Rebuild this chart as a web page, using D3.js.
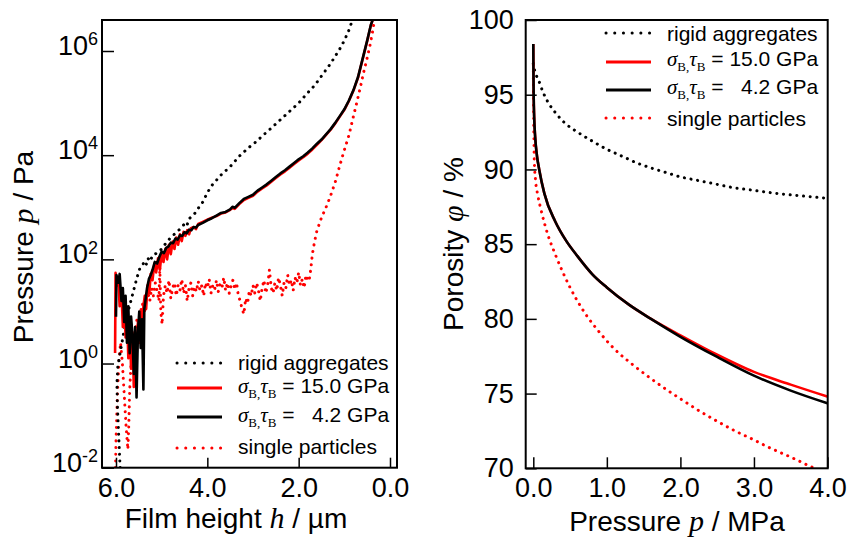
<!DOCTYPE html>
<html>
<head>
<meta charset="utf-8">
<script src="https://cdn.jsdelivr.net/npm/d3@7"></script>
<style>
  body { margin: 0; background: #fff; }
  svg { display: block; font-family: 'Liberation Sans', Arial, sans-serif; }
  .serif { font-family: 'Liberation Serif', 'Times New Roman', serif; }
</style>
</head>
<body>
<svg class="chart" width="847" height="541"></svg>
<script>
const app = (function () {
  'use strict';

  // left panel: film height h (µm) vs log10(p / Pa)
  const rigidLeft = [
    [5.91, -2.0], [5.93, -1.6], [5.95, -1.2], [5.97, -0.8], [5.98, -0.4], [5.96, -0.05],
    [5.90, 0.25], [5.84, 0.55], [5.78, 0.85], [5.72, 1.05], [5.66, 1.25], [5.60, 1.45],
    [5.54, 1.65], [5.48, 1.82], [5.40, 1.92], [5.35, 1.86], [5.30, 2.02], [5.25, 1.96],
    [5.20, 2.08], [5.10, 2.12], [5.00, 2.20], [4.90, 2.32], [4.80, 2.42], [4.70, 2.50],
    [4.60, 2.58], [4.50, 2.68], [4.45, 2.64], [4.40, 2.78], [4.30, 2.85], [4.20, 2.98],
    [4.10, 3.10], [4.00, 3.28], [3.90, 3.42], [3.80, 3.52], [3.70, 3.62], [3.60, 3.70],
    [3.50, 3.78], [3.40, 3.88], [3.30, 3.98], [3.20, 4.06], [3.10, 4.14], [3.00, 4.21],
    [2.90, 4.28], [2.80, 4.37], [2.70, 4.44], [2.60, 4.52], [2.50, 4.60], [2.40, 4.68],
    [2.30, 4.76], [2.20, 4.84], [2.10, 4.92], [2.00, 5.00], [1.90, 5.10], [1.80, 5.20],
    [1.70, 5.29], [1.60, 5.40], [1.50, 5.52], [1.40, 5.64], [1.30, 5.76], [1.20, 5.90],
    [1.10, 6.04], [1.00, 6.20], [0.90, 6.40], [0.82, 6.60]
  ];

  const stiff15Left = [
    [6.02, 0.20], [6.01, 1.74], [5.98, 1.50], [5.95, 1.65], [5.92, 1.10], [5.88, 1.40],
    [5.85, 0.70], [5.82, 1.25], [5.79, 0.50], [5.76, 1.00], [5.73, 0.10], [5.70, 0.85],
    [5.67, -0.10], [5.64, 0.60], [5.61, -0.45], [5.58, 0.50], [5.55, 0.10], [5.52, 0.80],
    [5.49, 0.40], [5.46, 1.00], [5.43, 0.50], [5.40, 1.10], [5.37, 1.30], [5.34, 1.05],
    [5.31, 1.50], [5.27, 1.35], [5.24, 1.72], [5.20, 1.60], [5.16, 1.92], [5.12, 1.75],
    [5.08, 2.02], [5.04, 1.80], [5.00, 2.12], [4.96, 1.95], [4.92, 2.20], [4.88, 2.00],
    [4.84, 2.28], [4.80, 2.10], [4.76, 2.34], [4.72, 2.20], [4.68, 2.42], [4.64, 2.28],
    [4.60, 2.48], [4.56, 2.35], [4.52, 2.53], [4.48, 2.45], [4.44, 2.56], [4.40, 2.48],
    [4.36, 2.60], [4.30, 2.62], [4.25, 2.58], [4.20, 2.68], [4.10, 2.72], [4.00, 2.76],
    [3.90, 2.80], [3.80, 2.83], [3.70, 2.88], [3.60, 2.90], [3.50, 2.95], [3.45, 2.99],
    [3.40, 2.97], [3.30, 3.06], [3.20, 3.14], [3.10, 3.18], [3.00, 3.22], [2.90, 3.30],
    [2.80, 3.36], [2.70, 3.42], [2.60, 3.49], [2.50, 3.56], [2.40, 3.63], [2.30, 3.69],
    [2.20, 3.76], [2.10, 3.83], [2.00, 3.90], [1.90, 3.96], [1.80, 4.03], [1.70, 4.11],
    [1.60, 4.20], [1.50, 4.29], [1.40, 4.39], [1.30, 4.49], [1.20, 4.61], [1.10, 4.74],
    [1.00, 4.87], [0.90, 5.04], [0.80, 5.24], [0.70, 5.49], [0.60, 5.84], [0.50, 6.19],
    [0.42, 6.49], [0.37, 6.62]
  ];

  const stiff42Left = [
    [6.00, 0.90], [5.99, 1.70], [5.95, 1.55], [5.92, 1.72], [5.88, 1.20], [5.85, 1.45],
    [5.82, 0.80], [5.79, 1.30], [5.76, 0.40], [5.73, 1.10], [5.70, 0.20], [5.67, 0.90],
    [5.64, 0.55], [5.61, -0.20], [5.58, 0.70], [5.55, -0.65], [5.52, 0.60], [5.49, 1.00],
    [5.46, 0.30], [5.43, 0.85], [5.40, -0.50], [5.38, 1.05], [5.35, 1.25], [5.32, 1.45],
    [5.28, 1.62], [5.24, 1.70], [5.20, 1.80], [5.15, 1.95], [5.10, 1.92], [5.05, 2.05],
    [5.00, 2.15], [4.95, 2.12], [4.90, 2.22], [4.85, 2.25], [4.80, 2.32], [4.75, 2.31],
    [4.70, 2.40], [4.65, 2.38], [4.60, 2.46], [4.55, 2.45], [4.50, 2.52], [4.45, 2.50],
    [4.40, 2.57], [4.35, 2.56], [4.30, 2.62], [4.25, 2.61], [4.20, 2.66], [4.10, 2.70],
    [4.00, 2.75], [3.90, 2.79], [3.80, 2.84], [3.70, 2.89], [3.60, 2.91], [3.50, 2.96],
    [3.45, 3.01], [3.40, 2.99], [3.30, 3.08], [3.20, 3.16], [3.10, 3.20], [3.00, 3.24],
    [2.90, 3.32], [2.80, 3.38], [2.70, 3.44], [2.60, 3.51], [2.50, 3.58], [2.40, 3.65],
    [2.30, 3.71], [2.20, 3.78], [2.10, 3.85], [2.00, 3.92], [1.90, 3.98], [1.80, 4.05],
    [1.70, 4.13], [1.60, 4.22], [1.50, 4.30], [1.40, 4.40], [1.30, 4.50], [1.20, 4.62],
    [1.10, 4.75], [1.00, 4.88], [0.90, 5.05], [0.80, 5.25], [0.70, 5.50], [0.60, 5.85],
    [0.50, 6.20], [0.42, 6.50], [0.37, 6.62]
  ];

  const singleLeft = [
    [6.01, -2.0], [6.00, -1.5], [5.98, -0.9], [5.96, -0.4], [5.93, 0.1], [5.90, 0.4],
    [5.86, 0.0], [5.82, -0.6], [5.78, -1.2], [5.74, -1.65], [5.72, -1.2], [5.70, -0.5],
    [5.67, 0.0], [5.63, 0.3], [5.58, 0.6], [5.54, 0.85], [5.50, 0.7], [5.46, 1.0],
    [5.42, 1.15], [5.38, 0.95], [5.34, 1.25], [5.30, 1.35], [5.26, 1.2], [5.22, 1.45],
    [5.18, 1.3], [5.14, 1.55], [5.10, 1.40], [5.06, 1.20], [5.04, 1.85], [5.02, 1.00],
    [4.99, 0.75], [4.96, 1.30], [4.92, 1.50], [4.88, 1.35], [4.84, 1.60], [4.80, 1.25],
    [4.76, 1.45], [4.72, 1.55], [4.68, 1.30], [4.64, 1.50], [4.60, 1.40], [4.56, 1.62],
    [4.52, 1.35], [4.48, 1.50], [4.44, 1.20], [4.40, 1.45], [4.36, 1.55], [4.32, 1.30],
    [4.28, 1.48], [4.24, 1.38], [4.20, 1.58], [4.16, 1.40], [4.12, 1.50], [4.08, 1.30],
    [4.04, 1.55], [4.00, 1.45], [3.96, 1.62], [3.92, 1.35], [3.88, 1.50], [3.84, 1.42],
    [3.80, 1.60], [3.76, 1.38], [3.72, 1.52], [3.68, 1.45], [3.64, 1.65], [3.60, 1.40],
    [3.56, 1.55], [3.52, 1.35], [3.48, 1.50], [3.44, 1.60], [3.40, 1.42], [3.36, 1.55],
    [3.32, 1.30], [3.28, 1.20], [3.24, 1.05], [3.20, 0.95], [3.16, 1.25], [3.12, 1.15],
    [3.08, 1.40], [3.04, 1.30], [3.00, 1.50], [2.96, 1.35], [2.92, 1.55], [2.88, 1.40],
    [2.84, 1.20], [2.80, 1.45], [2.76, 1.60], [2.72, 1.35], [2.68, 1.50], [2.64, 1.80],
    [2.60, 1.45], [2.56, 1.35], [2.52, 1.55], [2.48, 1.40], [2.44, 1.65], [2.40, 1.50],
    [2.36, 1.30], [2.32, 1.55], [2.28, 1.45], [2.24, 1.70], [2.20, 1.50], [2.16, 1.60],
    [2.12, 1.40], [2.08, 1.65], [2.04, 1.55], [2.00, 1.75], [1.96, 1.50], [1.92, 1.62],
    [1.88, 1.45], [1.84, 1.70], [1.80, 1.58], [1.76, 1.65], [1.73, 1.85], [1.70, 2.10],
    [1.65, 2.35], [1.60, 2.55], [1.50, 2.80], [1.40, 3.00], [1.31, 3.20], [1.20, 3.48],
    [1.10, 3.80], [1.02, 4.04], [0.90, 4.38], [0.80, 4.75], [0.73, 5.00], [0.65, 5.30],
    [0.58, 5.58], [0.51, 5.83], [0.44, 6.10], [0.38, 6.38], [0.34, 6.60]
  ];

  // right panel: pressure p (MPa) vs porosity (%)
  const rigidRight = [
    [0.0, 97.1], [0.02, 96.6], [0.07, 96.0], [0.13, 95.2], [0.2, 94.5], [0.3, 93.8],
    [0.43, 93.1], [0.6, 92.5], [0.8, 91.9], [1.0, 91.35], [1.2, 90.9], [1.4, 90.45],
    [1.6, 90.1], [1.8, 89.8], [2.0, 89.5], [2.2, 89.3], [2.45, 89.05], [2.7, 88.8],
    [3.0, 88.6], [3.3, 88.4], [3.6, 88.25], [4.0, 88.07]
  ];
  const stiff15Right = [
    [0.0, 98.4], [0.002, 96.5], [0.005, 95.0], [0.012, 93.5], [0.025, 92.2], [0.05, 90.9],
    [0.08, 90.0], [0.15, 88.4], [0.3, 86.5], [0.45, 85.2], [0.6, 84.2], [0.8, 83.0],
    [1.0, 82.1], [1.3, 80.95], [1.6, 80.0], [2.0, 78.9], [2.5, 77.6], [3.0, 76.45],
    [3.5, 75.6], [4.0, 74.8]
  ];
  const stiff42Right = [
    [0.0, 98.4], [0.002, 96.5], [0.005, 95.0], [0.012, 93.5], [0.025, 92.2], [0.05, 90.9],
    [0.08, 90.0], [0.15, 88.4], [0.3, 86.5], [0.45, 85.2], [0.6, 84.2], [0.8, 83.0],
    [1.0, 82.1], [1.3, 80.95], [1.6, 80.0], [2.0, 78.8], [2.5, 77.45], [3.0, 76.2],
    [3.5, 75.2], [4.0, 74.35]
  ];
  const singleRight = [
    [0.0, 97.0], [0.003, 94.5], [0.007, 92.5], [0.014, 90.5], [0.03, 89.3], [0.06, 88.3],
    [0.1, 87.4], [0.2, 85.6], [0.3, 84.3], [0.5, 82.1], [0.7, 80.4], [0.9, 79.1],
    [1.1, 78.0], [1.36, 76.9], [1.6, 76.0], [1.8, 75.3], [2.0, 74.65], [2.27, 73.8],
    [2.5, 73.15], [2.72, 72.56], [3.0, 71.9], [3.18, 71.45], [3.5, 70.75], [3.8, 70.05],
    [4.0, 69.6]
  ];

  const leftXTicks = [6, 4, 2, 0];
  const leftYTicks = [-2, 0, 2, 4, 6];
  const rightXTicks = [0, 1, 2, 3, 4];
  const rightYTicks = [70, 75, 80, 85, 90, 95, 100];

  const legendItems = [
    { key: 'rigid', label: 'rigid aggregates', color: '#000', dotted: true },
    { key: 'b15', value: ' = 15.0 GPa', color: '#f00', dotted: false },
    { key: 'b42', value: ' =   4.2 GPa', color: '#000', dotted: false },
    { key: 'single', label: 'single particles', color: '#f00', dotted: true }
  ];

  function init () {
    doIt();
  }

  function styleLine (sel, color, dotted) {
    sel.attr('fill', 'none')
      .attr('stroke', color)
      .attr('stroke-width', dotted ? 3 : 2.6)
      .attr('stroke-linejoin', 'round')
      .attr('stroke-linecap', dotted ? 'round' : 'butt');
    if (dotted) sel.attr('stroke-dasharray', '0.1,6.6');
    return sel;
  }

  function drawLegend (svg, x0, rows) {
    const g = svg.append('g').attr('class', 'legend');
    legendItems.forEach(function (d, i) {
      const r = rows[i];
      styleLine(g.append('line'), d.color, d.dotted)
        .attr('x1', x0).attr('x2', x0 + 45)
        .attr('y1', r.line).attr('y2', r.line)
        .attr('stroke-width', d.dotted ? 3 : 3)
        .attr('stroke-dasharray', d.dotted ? '0.1,8.6' : null);
      const t = g.append('text')
        .attr('x', x0 + 61)
        .attr('y', r.base)
        .attr('font-size', 21)
        .style('white-space', 'pre');
      if (d.label) {
        t.text(d.label);
      } else {
        t.append('tspan').attr('class', 'serif').attr('font-style', 'italic').text('\u03c3');
        t.append('tspan').attr('class', 'serif').attr('font-size', 13).attr('dy', 5).text('B,');
        t.append('tspan').attr('class', 'serif').attr('font-style', 'italic').attr('dy', -5).text('\u03c4');
        t.append('tspan').attr('class', 'serif').attr('font-size', 13).attr('dy', 5).text('B');
        t.append('tspan').attr('dy', -5).text(d.value);
      }
    });
  }

  function doIt () {
    const svg = d3.select('.chart');

    // ---------- left panel ----------
    const L = { left: 102, right: 397, top: 20, bottom: 467.7 };
    const xL = d3.scaleLinear().domain([6, 0]).range([116, 390]);
    const yL = d3.scaleLog().domain([1e-2, 1e6]).range([467.7, 51]);

    svg.append('clipPath').attr('id', 'clipL')
      .append('rect')
      .attr('x', L.left).attr('y', L.top)
      .attr('width', L.right - L.left).attr('height', L.bottom - L.top);

    const lineL = d3.line()
      .x(function (d) { return xL(d[0]); })
      .y(function (d) { return yL(Math.pow(10, d[1])); });

    const gL = svg.append('g').attr('clip-path', 'url(#clipL)');
    styleLine(gL.append('path').attr('d', lineL(singleLeft)), '#f00', true);
    styleLine(gL.append('path').attr('d', lineL(rigidLeft)), '#000', true);
    styleLine(gL.append('path').attr('d', lineL(stiff15Left)), '#f00', false);
    styleLine(gL.append('path').attr('d', lineL(stiff42Left)), '#000', false);

    const axLx = svg.append('g')
      .attr('transform', 'translate(0,' + L.bottom + ')')
      .call(d3.axisBottom(xL).tickValues(leftXTicks).tickSize(-10).tickPadding(20)
        .tickFormat(d3.format('.1f')));
    const axLy = svg.append('g')
      .attr('transform', 'translate(' + L.left + ',0)')
      .call(d3.axisLeft(yL).tickValues(leftYTicks.map(function (e) { return Math.pow(10, e); }))
        .tickSize(-12).tickPadding(4).tickFormat(''));

    axLy.selectAll('.tick').each(function (d) {
      const t = d3.select(this).append('text')
        .attr('x', -4).attr('dy', '0.36em')
        .attr('text-anchor', 'end')
        .attr('fill', '#000');
      t.append('tspan').attr('font-size', 27).text('10');
      t.append('tspan').attr('font-size', 18).attr('dy', '-0.55em')
        .text(Math.round(Math.log10(d)));
    });

    svg.append('rect')
      .attr('x', L.left).attr('y', L.top)
      .attr('width', L.right - L.left).attr('height', L.bottom - L.top)
      .attr('fill', 'none').attr('stroke', '#000').attr('stroke-width', 2);

    // ---------- right panel ----------
    const R = { left: 525.7, right: 827.7, top: 20, bottom: 468.3 };
    const xR = d3.scaleLinear().domain([0, 4]).range([533.3, 827.5]);
    const yR = d3.scaleLinear().domain([70, 100]).range([468.3, 20]);

    svg.append('clipPath').attr('id', 'clipR')
      .append('rect')
      .attr('x', R.left).attr('y', R.top)
      .attr('width', R.right - R.left).attr('height', R.bottom - R.top);

    const lineR = d3.line()
      .x(function (d) { return xR(d[0]); })
      .y(function (d) { return yR(d[1]); })
      .curve(d3.curveMonotoneX);

    const gR = svg.append('g').attr('clip-path', 'url(#clipR)');
    styleLine(gR.append('path').attr('d', lineR(singleRight)), '#f00', true);
    styleLine(gR.append('path').attr('d', lineR(rigidRight)), '#000', true);
    styleLine(gR.append('path').attr('d', lineR(stiff15Right)), '#f00', false);
    styleLine(gR.append('path').attr('d', lineR(stiff42Right)), '#000', false);

    const axRx = svg.append('g')
      .attr('transform', 'translate(0,' + R.bottom + ')')
      .call(d3.axisBottom(xR).tickValues(rightXTicks).tickSize(-11).tickPadding(20)
        .tickFormat(d3.format('.1f')));
    const axRy = svg.append('g')
      .attr('transform', 'translate(' + R.left + ',0)')
      .call(d3.axisLeft(yR).tickValues(rightYTicks).tickSize(-11).tickPadding(12)
        .tickFormat(d3.format('d')));

    [axLx, axLy, axRx, axRy].forEach(function (ax) {
      ax.select('.domain').remove();
      ax.selectAll('.tick line').attr('stroke', '#000').attr('stroke-width', 1.5);
      ax.selectAll('.tick text').attr('fill', '#000');
    });
    [axLx, axRx, axRy].forEach(function (ax) {
      ax.selectAll('.tick text')
        .attr('font-size', 27)
        .attr('font-family', "'Liberation Sans', Arial, sans-serif");
    });
    axLx.selectAll('.tick text').attr('dy', '0.71em').attr('y', 10);
    axRx.selectAll('.tick text').attr('dy', '0.71em').attr('y', 10);

    svg.append('rect')
      .attr('x', R.left).attr('y', R.top)
      .attr('width', R.right - R.left).attr('height', R.bottom - R.top)
      .attr('fill', 'none').attr('stroke', '#000').attr('stroke-width', 2);

    // ---------- axis titles ----------
    function title (x, y, rot, parts) {
      const t = svg.append('text')
        .attr('transform', 'translate(' + x + ',' + y + ')' + (rot ? ' rotate(-90)' : ''))
        .attr('text-anchor', 'middle')
        .attr('font-size', 28)
        .style('white-space', 'pre');
      parts.forEach(function (p) {
        const s = t.append('tspan').text(p[0]);
        if (p[1]) s.attr('class', 'serif').attr('font-style', 'italic').attr('font-size', 30);
      });
    }
    title(236, 528, false, [['Film height '], ['h', true], [' / \u00b5m']]);
    title(33, 247, true, [['Pressure '], ['p', true], [' / Pa']]);
    title(677, 531, false, [['Pressure '], ['p', true], [' / MPa']]);
    title(463, 244, true, [['Porosity '], ['\u03c6', true], [' / %']]);

    // ---------- legends ----------
    drawLegend(svg, 177, [
      { line: 363, base: 370 }, { line: 388, base: 393 },
      { line: 417, base: 422 }, { line: 448, base: 454 }
    ]);
    drawLegend(svg, 606, [
      { line: 33, base: 41 }, { line: 62, base: 66 },
      { line: 90, base: 94 }, { line: 118, base: 126 }
    ]);
  }

  return {
    init: init
  };
}());

window.addEventListener('load', app.init);
</script>
</body>
</html>
